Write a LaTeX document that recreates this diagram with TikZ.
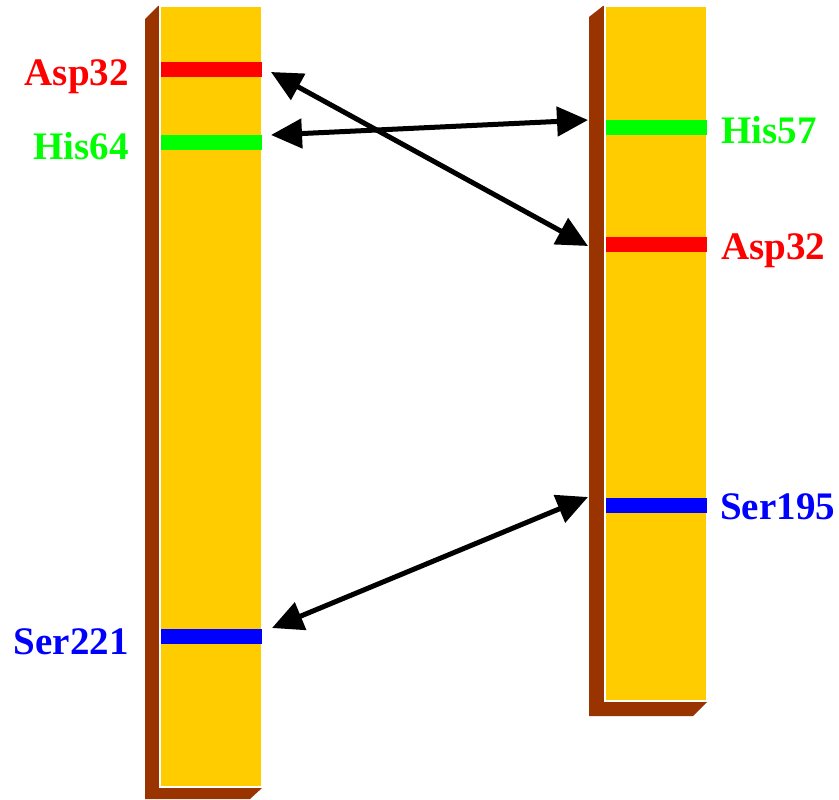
\documentclass[tikz,border=0pt]{standalone}
\usepackage{fontspec}
\setmainfont{Liberation Serif}
\usetikzlibrary{arrows.meta}
\definecolor{barbrown}{HTML}{993300}
\definecolor{baryellow}{HTML}{FFCC00}
\definecolor{resred}{HTML}{FF0000}
\definecolor{resgreen}{HTML}{00FF00}
\definecolor{resblue}{HTML}{0000FF}
\tikzset{
  side/.style={fill=barbrown, draw=none},
  face/.style={fill=baryellow, draw=white, line width=2pt},
  band/.style={draw=none},
  lbl/.style={inner sep=0pt, font=\fontsize{39}{39}\selectfont\bfseries},
  link/.style={>={Triangle[length=31pt,width=29pt]}, <->, line width=5pt, black}
}
\begin{document}
\begin{tikzpicture}[x=1pt, y=-1pt]
\useasboundingbox (0,0) rectangle (839,800);

% left strand: shaded side and bottom, then front face
\fill[side] (145,19) -- (158,6) -- (161,6) -- (161,788) -- (262,788) -- (250,799) -- (145,799) -- cycle;
\draw[face] (160,6) rectangle (262,787);
% right strand
\fill[side] (589,17) -- (603,6) -- (606,6) -- (606,702) -- (707,702) -- (693,716) -- (589,716) -- cycle;
\draw[face] (605,6) rectangle (707,701);

% residue bands
\fill[band, resred]   (161,62)  rectangle (262,77);
\fill[band, resgreen] (161,135) rectangle (262,150);
\fill[band, resblue]  (161,629) rectangle (262,644);
\fill[band, resgreen] (606,120) rectangle (707,135);
\fill[band, resred]   (606,237) rectangle (707,252);
\fill[band, resblue]  (606,498) rectangle (707,513);

% labels
\node[lbl, text=resred,   anchor=base east] (lAsp) at (129,85)  {Asp32};
\node[lbl, text=resgreen, anchor=base east] (lHis) at (129,160) {His64};
\node[lbl, text=resblue,  anchor=base east] (lSer) at (129,654) {Ser221};
\node[lbl, text=resgreen, anchor=base west] (rHis) at (721,143) {His57};
\node[lbl, text=resred,   anchor=base west] (rAsp) at (721,259) {Asp32};
\node[lbl, text=resblue,  anchor=base west] (rSer) at (720,519) {Ser195};

% connector ends beside the bands
\coordinate (pAspL) at (271,72);
\coordinate (pHisL) at (271,135);
\coordinate (pSerL) at (272,628);
\coordinate (pHisR) at (588,120);
\coordinate (pAspR) at (588,246);
\coordinate (pSerR) at (588,497);

% correspondences
\draw[link] (pAspL) -- (pAspR);
\draw[link] (pHisL) -- (pHisR);
\draw[link] (pSerL) -- (pSerR);
\end{tikzpicture}
\end{document}
